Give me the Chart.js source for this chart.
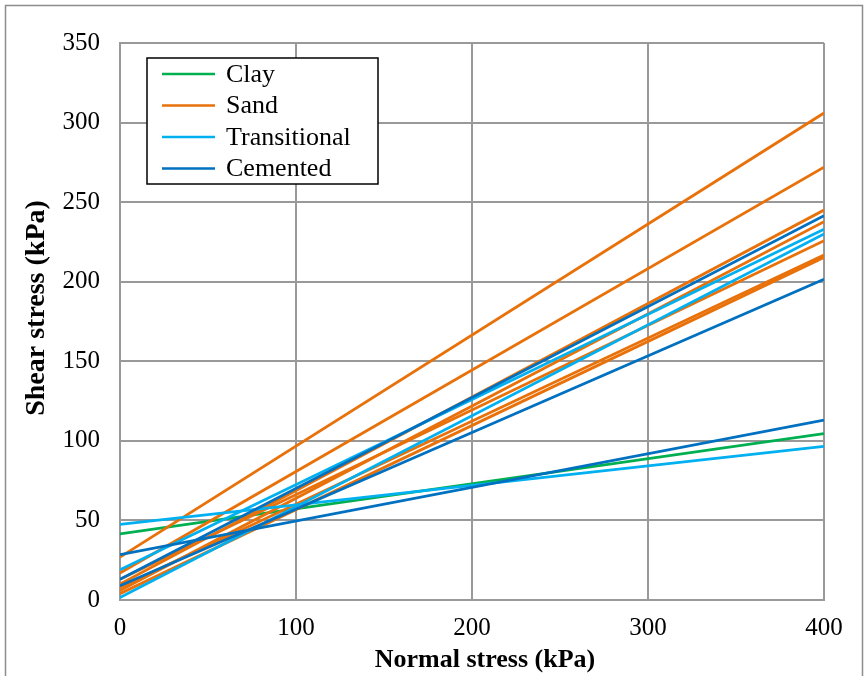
<!DOCTYPE html>
<html>
<head>
<meta charset="utf-8">
<script src="https://cdn.jsdelivr.net/npm/chart.js@4.4.1/dist/chart.umd.min.js"></script>
<style>
  html, body { margin: 0; padding: 0; background: #ffffff; }
</style>
</head>
<body>
<canvas id="shear-canvas" width="865" height="676"></canvas>
<script>
// Failure envelopes, shear stress (kPa) at normal stress 0 and 400 kPa
var xRange = [0, 400];

var categories = ['Clay', 'Sand', 'Transitional', 'Cemented'];
var categoryColors = ['#00b050', '#e8710a', '#00b0f0', '#0070c0'];

var clayStart = [41.5];
var clayEnd = [104.5];

var sandStart = [27, 17, 10, 6, 13, 8, 4];
var sandEnd = [306, 272, 245, 237.7, 225.8, 216.8, 215.3];

var transitionalStart = [47.5, 19, 1.5];
var transitionalEnd = [96.6, 233, 230];

var cementedStart = [28.5, 13, 9];
var cementedEnd = [113, 241.5, 201.5];

var xTicks = [0, 100, 200, 300, 400];
var yTicks = [0, 50, 100, 150, 200, 250, 300, 350];

var xTitle = 'Normal stress (kPa)';
var yTitle = 'Shear stress (kPa)';

var serif = "'Liberation Serif', 'Times New Roman', serif";

function makeLines(label, starts, ends, color, order) {
    var sets = [];
    for (var i = 0; i < starts.length; i++) {
        sets.push({
            label: label,
            data: [{x: xRange[0], y: starts[i]}, {x: xRange[1], y: ends[i]}],
            borderColor: color,
            backgroundColor: color,
            borderWidth: 2.8,
            pointRadius: 0,
            showLine: true,
            order: order
        });
    }
    return sets;
}

var datasets = []
    .concat(makeLines(categories[0], clayStart, clayEnd, categoryColors[0], 4))
    .concat(makeLines(categories[1], sandStart, sandEnd, categoryColors[1], 3))
    .concat(makeLines(categories[2], transitionalStart, transitionalEnd, categoryColors[2], 2))
    .concat(makeLines(categories[3], cementedStart, cementedEnd, categoryColors[3], 1));

// frame, axis titles and the legend box inside the plot
var boxPlugin = {
    id: 'boxPlugin',
    beforeDraw: function(chart) {
        var ctx = chart.ctx;
        ctx.save();
        ctx.fillStyle = '#ffffff';
        ctx.fillRect(0, 0, chart.width, chart.height);
        ctx.strokeStyle = '#8c8c8c';
        ctx.lineWidth = 1.5;
        ctx.beginPath();
        ctx.moveTo(5.5, chart.height + 5);
        ctx.lineTo(5.5, 5.5);
        ctx.lineTo(862.5, 5.5);
        ctx.lineTo(862.5, chart.height + 5);
        ctx.stroke();
        ctx.restore();
    },
    afterDraw: function(chart) {
        var ctx = chart.ctx;
        ctx.save();
        ctx.fillStyle = '#000000';
        ctx.textAlign = 'center';
        ctx.textBaseline = 'middle';
        ctx.font = 'bold 26px ' + serif;
        ctx.fillText(xTitle, 485, 660);
        ctx.translate(37, 308);
        ctx.rotate(-Math.PI / 2);
        ctx.font = 'bold 28px ' + serif;
        ctx.fillText(yTitle, 0, 0);
        ctx.restore();

        ctx.save();
        ctx.fillStyle = '#ffffff';
        ctx.fillRect(147, 58, 231, 126);
        ctx.strokeStyle = '#000000';
        ctx.lineWidth = 1.5;
        ctx.strokeRect(147, 58, 231, 126);
        ctx.font = '26px ' + serif;
        ctx.textBaseline = 'middle';
        ctx.textAlign = 'left';
        for (var i = 0; i < categories.length; i++) {
            var y = 74 + i * 31.5;
            ctx.strokeStyle = categoryColors[i];
            ctx.lineWidth = 2.5;
            ctx.beginPath();
            ctx.moveTo(162, y);
            ctx.lineTo(215, y);
            ctx.stroke();
            ctx.fillStyle = '#000000';
            ctx.fillText(categories[i], 226, y + 1);
        }
        ctx.restore();
    }
};

var ctx = document.getElementById('shear-canvas').getContext('2d');
window.shearChart = new Chart(ctx, {
    type: 'scatter',
    data: { datasets: datasets },
    plugins: [boxPlugin],
    options: {
        responsive: false,
        animation: false,
        devicePixelRatio: 1,
        layout: { padding: { top: 43, right: 41, left: 0, bottom: 0 } },
        plugins: {
            legend: { display: false },
            tooltip: { enabled: false }
        },
        scales: {
            x: {
                type: 'linear',
                min: xRange[0],
                max: xRange[1],
                afterBuildTicks: function(scale) {
                    scale.ticks = xTicks.map(function(v) { return {value: v}; });
                },
                afterFit: function(scale) { scale.height = 76; },
                grid: { color: '#999999', lineWidth: 2, drawTicks: false },
                border: { color: '#999999', width: 2 },
                ticks: { color: '#000000', padding: 13, font: { family: serif, size: 25 } }
            },
            y: {
                min: 0,
                max: 350,
                afterBuildTicks: function(scale) {
                    scale.ticks = yTicks.map(function(v) { return {value: v}; });
                },
                afterFit: function(scale) { scale.width = 120; },
                grid: { color: '#999999', lineWidth: 2, drawTicks: false },
                border: { color: '#999999', width: 2 },
                ticks: { color: '#000000', padding: 20, font: { family: serif, size: 25 } }
            }
        }
    }
});
</script>
</body>
</html>
